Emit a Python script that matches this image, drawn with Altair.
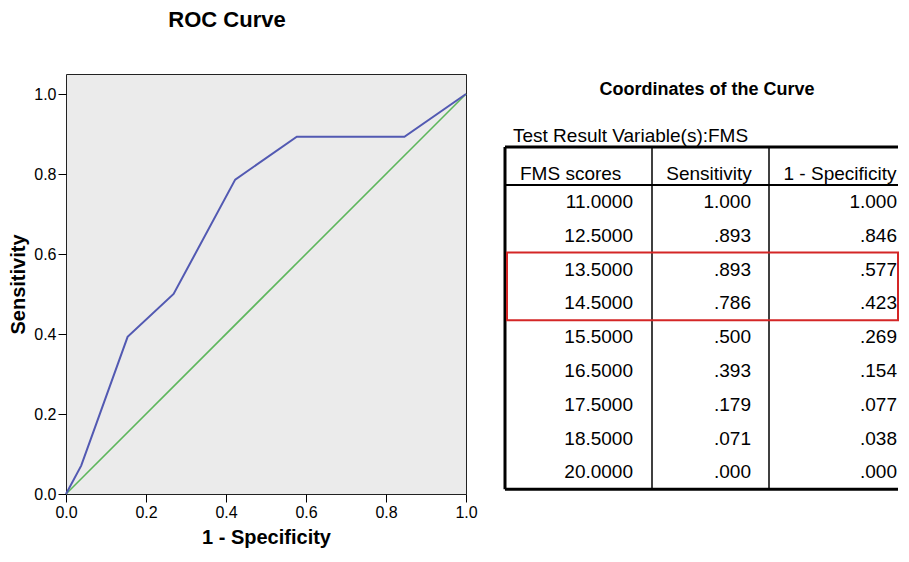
import altair as alt
import pandas as pd

# ---------------- data ----------------
fms_scores = ["11.0000", "12.5000", "13.5000", "14.5000", "15.5000",
              "16.5000", "17.5000", "18.5000", "20.0000"]
sensitivity = [1.000, 0.893, 0.893, 0.786, 0.500, 0.393, 0.179, 0.071, 0.000]
one_minus_spec = [1.000, 0.846, 0.577, 0.423, 0.269, 0.154, 0.077, 0.038, 0.000]
ref_x = [0.0, 1.0]
ref_y = [0.0, 1.0]
axis_ticks = [0.0, 0.2, 0.4, 0.6, 0.8, 1.0]
table_headers = ["FMS scores", "Sensitivity", "1 - Specificity"]
highlight_rows = [2, 3]
chart_title = "ROC Curve"
table_title = "Coordinates of the Curve"
table_subtitle = "Test Result Variable(s):FMS"

# ---------------- style / layout ----------------
FONT = "Liberation Sans"
BLUE = "#5259B2"
GREEN = "#5DB65C"
RED = "#D42626"
BG = "#EBEBEB"


def fmt3(v):
    return "1.000" if v >= 1 else f"{v:.3f}"[1:]


# ---------------- ROC chart ----------------
roc_df = pd.DataFrame({"fpr": one_minus_spec, "tpr": sensitivity,
                       "k": list(range(len(sensitivity)))})
ref_df = pd.DataFrame({"fpr": ref_x, "tpr": ref_y})

xscale = alt.Scale(domain=[0, 1], nice=False, zero=False)
yscale = alt.Scale(domain=[0, 1.05], nice=False, zero=False)
common_axis = dict(values=axis_ticks, format=".1f", grid=False, domain=False,
                   tickSize=8, tickColor="#000", tickWidth=1,
                   labelFontSize=16, labelFont=FONT, labelColor="#000",
                   titleFont=FONT, titleFontSize=20, titleFontWeight="bold",
                   titleColor="#000")
xaxis = alt.Axis(title="1 - Specificity", labelPadding=2, labelFlush=False,
                 titlePadding=7, **common_axis)
yaxis = alt.Axis(title="Sensitivity", labelPadding=2, labelFlush=False,
                 titlePadding=5, **common_axis)

ref_line = alt.Chart(ref_df).mark_line(color=GREEN, strokeWidth=1.6).encode(
    x=alt.X("fpr:Q", scale=xscale, axis=xaxis),
    y=alt.Y("tpr:Q", scale=yscale, axis=yaxis),
)
roc_line = alt.Chart(roc_df).mark_line(color=BLUE, strokeWidth=2).encode(
    x="fpr:Q", y="tpr:Q", order="k:Q"
)
left = alt.layer(ref_line, roc_line).properties(
    width=400, height=420,
    title=alt.TitleParams(chart_title, font=FONT, fontSize=22, fontWeight="bold",
                          color="#000", anchor="middle", dx=-39, offset=42),
    view=alt.ViewBackground(fill=BG, stroke="#222", strokeWidth=1),
)

# ---------------- table panel (origin aligned with plot top) ----------------
W, H = 398, 420
TBL_LEFT, TBL_TOP, HEAD_BOTTOM, ROW_H = 5, 73, 111, 33.8
COL_EDGES = [5, 152, 269]
VAL_RIGHT = [133, 251, 397]
HEAD_X = [20, 209, 340]
HEAD_Y = 100
TITLE_POS = (207, 16)
SUB_POS = (13, 62)
n_rows = len(fms_scores)
TBL_BOTTOM = HEAD_BOTTOM + ROW_H * n_rows

tx = alt.Scale(domain=[0, W], nice=False, zero=False)
ty = alt.Scale(domain=[0, H], nice=False, zero=False, reverse=True)

cols = [fms_scores, [fmt3(v) for v in sensitivity], [fmt3(v) for v in one_minus_spec]]
cell_rows = []
for c, vals in enumerate(cols):
    for i, s in enumerate(vals):
        cell_rows.append({"x": VAL_RIGHT[c], "y": HEAD_BOTTOM + ROW_H * (i + 0.5), "label": s})
cells_df = pd.DataFrame(cell_rows)

head_left_df = pd.DataFrame([{"x": HEAD_X[0], "y": HEAD_Y, "label": table_headers[0]}])
head_center_df = pd.DataFrame([{"x": HEAD_X[c], "y": HEAD_Y, "label": table_headers[c]}
                               for c in (1, 2)])

rules = [
    {"x": TBL_LEFT, "x2": W, "y": TBL_TOP, "y2": TBL_TOP, "sw": 3},
    {"x": TBL_LEFT, "x2": W, "y": HEAD_BOTTOM, "y2": HEAD_BOTTOM, "sw": 2},
    {"x": TBL_LEFT, "x2": W, "y": TBL_BOTTOM, "y2": TBL_BOTTOM, "sw": 3},
    {"x": COL_EDGES[0], "x2": COL_EDGES[0], "y": TBL_TOP, "y2": TBL_BOTTOM, "sw": 3},
    {"x": COL_EDGES[1], "x2": COL_EDGES[1], "y": TBL_TOP, "y2": TBL_BOTTOM, "sw": 1.5},
    {"x": COL_EDGES[2], "x2": COL_EDGES[2], "y": TBL_TOP, "y2": TBL_BOTTOM, "sw": 1.5},
]
rules_df = pd.DataFrame(rules)

hl_df = pd.DataFrame([{"x": TBL_LEFT + 2, "x2": W,
                       "y": HEAD_BOTTOM + ROW_H * min(highlight_rows),
                       "y2": HEAD_BOTTOM + ROW_H * (max(highlight_rows) + 1)}])

title_df = pd.DataFrame([{"x": TITLE_POS[0], "y": TITLE_POS[1], "label": table_title}])
sub_df = pd.DataFrame([{"x": SUB_POS[0], "y": SUB_POS[1], "label": table_subtitle}])

X = alt.X("x:Q", scale=tx, axis=None)
Y = alt.Y("y:Q", scale=ty, axis=None)

rule_layer = alt.Chart(rules_df).mark_rule(color="#000").encode(
    x=X, x2="x2:Q", y=Y, y2="y2:Q", strokeWidth=alt.StrokeWidth("sw:Q", scale=None)
)
hl_layer = alt.Chart(hl_df).mark_rect(fill="transparent", stroke=RED, strokeWidth=2).encode(
    x=X, x2="x2:Q", y=Y, y2="y2:Q"
)
cells_layer = alt.Chart(cells_df).mark_text(
    align="right", baseline="middle", font=FONT, fontSize=19, color="#000"
).encode(x=X, y=Y, text="label:N")
head_l = alt.Chart(head_left_df).mark_text(
    align="left", baseline="middle", font=FONT, fontSize=19, color="#000"
).encode(x=X, y=Y, text="label:N")
head_c = alt.Chart(head_center_df).mark_text(
    align="center", baseline="middle", font=FONT, fontSize=19, color="#000"
).encode(x=X, y=Y, text="label:N")
t_layer = alt.Chart(title_df).mark_text(
    align="center", baseline="middle", font=FONT, fontSize=18, fontWeight="bold", color="#000"
).encode(x=X, y=Y, text="label:N")
s_layer = alt.Chart(sub_df).mark_text(
    align="left", baseline="middle", font=FONT, fontSize=19, color="#000"
).encode(x=X, y=Y, text="label:N")

right = alt.layer(rule_layer, hl_layer, cells_layer, head_l, head_c, t_layer, s_layer).properties(
    width=W, height=H,
    view=alt.ViewBackground(fill="white", stroke="transparent", strokeWidth=0),
)

chart = alt.hconcat(left, right, spacing=22).properties(
    padding=0, background="white"
)

chart.save("out.html", embed_options={"renderer": "svg", "actions": False})
